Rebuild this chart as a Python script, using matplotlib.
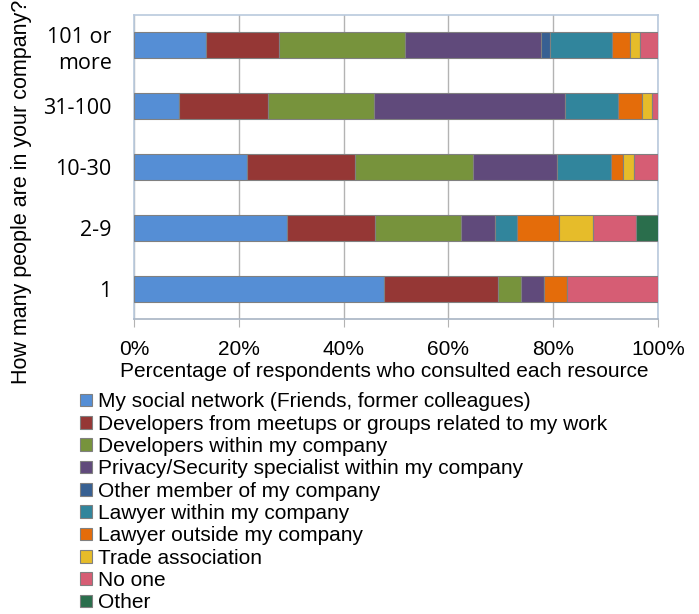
import numpy as np
import matplotlib.pyplot as plt

# company size groups, bottom to top
groups = ['1', '2-9', '10-30', '31-100', '101 or\nmore']

resources = ['My social network (Friends, former colleagues)',
             'Developers from meetups or groups related to my work',
             'Developers within my company',
             'Privacy/Security specialist within my company',
             'Other member of my company',
             'Lawyer within my company',
             'Lawyer outside my company',
             'Trade association',
             'No one',
             'Other']

# percentage per group for each resource (order matches groups)
social = [47.8, 29.2, 21.6, 8.6, 13.8]
meetups = [21.7, 16.7, 20.5, 16.9, 13.8]
devs_in = [4.3, 16.5, 22.6, 20.3, 24.1]
privacy = [4.4, 6.4, 16.1, 36.4, 26.0]
other_member = [0.0, 0.0, 0.0, 0.0, 1.6]
lawyer_in = [0.0, 4.2, 10.2, 10.1, 12.0]
lawyer_out = [4.4, 8.2, 2.3, 4.6, 3.4]
trade = [0.0, 6.3, 2.2, 2.0, 1.8]
no_one = [17.4, 8.3, 4.5, 1.1, 3.5]
other = [0.0, 4.2, 0.0, 0.0, 0.0]

series = [social, meetups, devs_in, privacy, other_member,
          lawyer_in, lawyer_out, trade, no_one, other]
colors = ['#558ED5', '#953735', '#77933C', '#604A7B', '#376092',
          '#31859C', '#E46C0A', '#E6BC2A', '#D65D74', '#2A6E4C']

arial = ['Liberation Sans', 'DejaVu Sans']

fig = plt.figure(figsize=(6.99, 6.14), dpi=100)
ax = fig.add_axes([134/699, 1-319/614, 524/699, 304/614])

y = np.arange(len(groups))
left = np.zeros(len(groups))
for vals, name, c in zip(series, resources, colors):
    ax.barh(y, vals, left=left, height=0.43, color=c, edgecolor='#808080',
            linewidth=0.8, label=name, zorder=3)
    left += np.array(vals)

ax.set_xlim(0, 100)
ax.set_ylim(-0.5, 4.5)
ax.set_xticks([0, 20, 40, 60, 80, 100])
ax.set_xticklabels(['0%', '20%', '40%', '60%', '80%', '100%'],
                   fontsize=15, family=arial)
ax.set_yticks(y)
ax.set_yticklabels(groups, fontsize=15.5, family=['Open Sans', 'DejaVu Sans'],
                   linespacing=1.3)
ax.grid(axis='x', color='#b3b3b3', linewidth=1, zorder=0)
ax.tick_params(axis='x', length=6, color='#b3b3b3', pad=9)
ax.tick_params(axis='y', length=0, pad=16)
for s in ax.spines.values():
    s.set_color('#b9c9dd')
    s.set_linewidth(1.2)
ax.spines['bottom'].set_color('#a8b4c4')

ax.set_xlabel('Percentage of respondents who consulted each resource',
              fontsize=15, family=arial)
ax.xaxis.set_label_coords(0.477, -0.142)
fig.text(22/699, 1-192/614, 'How many people are in your company?',
         rotation=90, ha='center', va='center', fontsize=15.5, family=arial)

leg = fig.legend(loc='upper left', bbox_to_anchor=(70/699, 1-382/614),
                 frameon=False, handlelength=0.55, handleheight=0.55,
                 handletextpad=0.3, labelspacing=0.16, borderpad=0,
                 prop={'family': arial, 'size': 15})

fig.savefig('out.png', dpi=100)
